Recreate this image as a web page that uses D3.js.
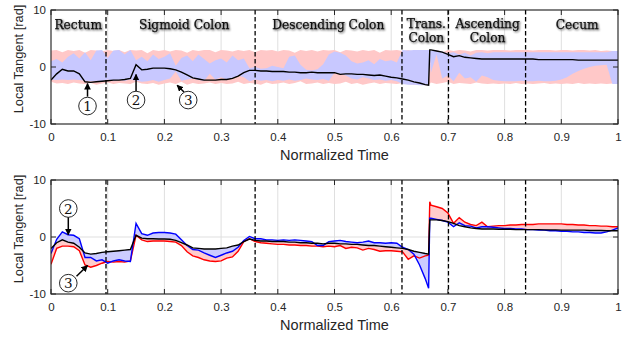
<!DOCTYPE html>
<html>
<head>
<meta charset="utf-8">
<script src="https://cdn.jsdelivr.net/npm/d3@7"></script>
<style>
  body { margin: 0; background: #fff; }
  svg { display: block; }
</style>
</head>
<body>
<div id="chart"></div>
<script>
// Sample times (normalized), with two extra samples around the jump at ~0.667
const time = [
  0.00, 0.01, 0.02, 0.03, 0.04, 0.05, 0.06, 0.07, 0.08, 0.09,
  0.10, 0.11, 0.12, 0.13, 0.14, 0.15, 0.16, 0.17, 0.18, 0.19,
  0.20, 0.21, 0.22, 0.23, 0.24, 0.25, 0.26, 0.27, 0.28, 0.29,
  0.30, 0.31, 0.32, 0.33, 0.34, 0.35, 0.36, 0.37, 0.38, 0.39,
  0.40, 0.41, 0.42, 0.43, 0.44, 0.45, 0.46, 0.47, 0.48, 0.49,
  0.50, 0.51, 0.52, 0.53, 0.54, 0.55, 0.56, 0.57, 0.58, 0.59,
  0.60, 0.61, 0.62, 0.63, 0.64, 0.65, 0.66, 0.666, 0.668, 0.67, 0.68, 0.69,
  0.70, 0.71, 0.72, 0.73, 0.74, 0.75, 0.76, 0.77, 0.78, 0.79,
  0.80, 0.81, 0.82, 0.83, 0.84, 0.85, 0.86, 0.87, 0.88, 0.89,
  0.90, 0.91, 0.92, 0.93, 0.94, 0.95, 0.96, 0.97, 0.98, 0.99,
  1.00
];

// ---- top panel ----
const topMean = [
  -2.3, -1.2, -0.4, -0.7, -0.7, -1.2, -2.6, -2.7, -2.6, -2.5,
  -2.4, -2.3, -2.3, -2.2, -2.0, 0.4, -0.5, -0.4, -0.2, -0.2,
  -0.2, -0.3, -0.5, -0.9, -1.4, -1.9, -2.1, -2.3, -2.3, -2.3,
  -2.2, -2.2, -2.0, -1.6, -1.0, -0.6, -0.6, -0.7, -0.7, -0.8,
  -0.8, -0.8, -0.9, -0.9, -1.0, -1.0, -0.9, -1.0, -1.0, -1.0,
  -1.0, -1.3, -1.2, -1.2, -1.3, -1.3, -1.4, -1.5, -1.4, -1.6,
  -1.8, -1.9, -2.1, -2.3, -2.6, -2.8, -3.1, -3.2, 3.0, 3.0, 2.8, 2.6,
  2.2, 1.8, 2.0, 1.7, 1.6, 1.5, 1.4, 1.4, 1.4, 1.4,
  1.4, 1.4, 1.4, 1.4, 1.4, 1.4, 1.3, 1.3, 1.3, 1.3,
  1.3, 1.3, 1.3, 1.2, 1.2, 1.2, 1.2, 1.2, 1.2, 1.2,
  1.2
];
const pinkHi = [
  2.9, 3.0, 2.6, 3.0, 2.8, 3.0, 2.5, 3.0, 2.9, 2.7,
  3.0, 2.8, 3.0, 2.6, 3.0, 2.9, 3.0, 2.4, 3.0, 2.8,
  3.0, 2.7, 3.0, 2.9, 2.5, 3.0, 2.8, 3.0, 3.0, 2.6,
  3.0, 2.9, 2.7, 3.0, 2.8, 3.0, 2.6, 3.0, 2.9, 3.0,
  2.7, 3.0, 2.9, 2.5, 3.0, 2.8, 3.0, 2.7, 3.0, 2.9,
  3.0, 2.6, 3.0, 2.9, 2.7, 3.0, 2.8, 3.0, 2.5, 3.0,
  2.9, 3.0, 2.8, 3.0, 2.7, 3.0, 2.9, 3.0, 3.0, 2.7, 3.0, 2.6,
  3.0, 2.8, 3.0, 2.9, 2.7, 3.0, 3.0, 2.9, 3.0, 3.0,
  3.0, 2.9, 3.0, 3.0, 3.0, 2.9, 3.0, 3.0, 3.0, 2.9,
  3.0, 3.0, 2.9, 3.0, 3.0, 2.9, 3.0, 2.8, 2.9, 2.8,
  2.8
];
const pinkLo = [
  -2.6, -2.9, -2.8, -3.0, -2.7, -2.9, -3.0, -2.8, -3.1, -2.9,
  -2.7, -3.0, -2.8, -2.9, -3.0, -2.6, -2.9, -3.0, -2.8, -3.1,
  -2.9, -2.7, -3.0, -2.6, -3.1, -2.8, -3.0, -2.9, -2.7, -3.0,
  -2.8, -3.0, -2.9, -2.6, -3.0, -2.8, -2.9, -3.1, -2.7, -3.0,
  -2.9, -2.7, -3.0, -2.8, -2.5, -3.0, -2.9, -2.7, -3.0, -2.8,
  -3.0, -2.9, -2.6, -3.0, -2.8, -3.1, -2.9, -2.7, -3.0, -2.8,
  -2.9, -3.0, -2.8, -3.0, -3.1, -3.0, -3.2, -3.2, -3.0, -2.7, -3.0, -2.8,
  -2.6, -3.0, -2.8, -2.9, -3.0, -2.7, -2.9, -3.0, -2.9, -3.0,
  -2.9, -3.0, -2.8, -3.0, -2.9, -3.0, -2.9, -2.8, -3.0, -2.9,
  -3.0, -2.9, -3.0, -2.8, -3.0, -2.9, -3.0, -2.9, -3.0, -2.9,
  -2.9
];
const blueHi = [
  1.0, 1.4, 0.8, 1.8, 2.4, 1.5, 2.6, 1.2, 2.9, 3.0,
  1.6, 2.9, 3.0, 2.2, 3.0, 1.2, 1.8, 1.0, 2.2, 1.4,
  1.8, 2.4, 0.2, 1.6, 2.0, 1.0, 2.2, 1.4, 0.6, 1.2,
  1.5, 0.8, 2.0, 1.2, 1.5, -0.2, 0.0, -0.3, -0.2, 0.2,
  0.0, -0.2, 1.8, 2.0, 0.4, -0.5, -0.6, -0.4, 0.5, 2.2,
  2.7, 2.5, 2.0, 1.0, 0.6, 0.8, 1.2, 0.5, 1.4, 1.0,
  1.2, 0.8, 3.0, 2.9, 3.0, 3.0, 3.0, 3.0, 3.0, 2.8, 2.9, 2.7,
  2.4, 2.6, 2.2, 2.5, 2.0, 2.5, 2.6, 2.4, 2.6, 2.6,
  2.6, 2.6, 2.6, 2.6, 2.6, 2.6, 2.6, 2.6, 2.6, 2.6,
  2.6, 2.6, 2.6, 2.6, 2.6, 2.6, 2.6, 2.6, 2.6, 2.8,
  2.8
];
const blueLo = [
  -2.2, -2.3, -2.2, -2.3, -2.2, -2.3, -2.4, -2.5, -2.4, -2.5,
  -2.2, -2.5, -2.3, -2.4, -2.2, -2.4, -2.6, -2.5, -2.3, -2.6,
  -2.3, -2.0, -0.8, -2.4, -2.2, -2.0, -2.3, -2.4, -1.2, -2.2,
  -1.8, -2.2, -2.0, -1.5, -1.8, -2.5, -2.2, -2.4, -2.3, -2.5,
  -2.3, -2.4, -2.2, -2.4, -2.3, -2.0, -2.2, -2.3, -2.1, -2.4,
  -1.0, -1.2, -1.5, -2.0, -2.2, -1.8, -2.0, -2.3, -2.2, -2.4,
  -2.3, -2.5, -3.0, -3.1, -3.1, -3.2, -3.2, -3.2, 2.6, -1.0, 2.2, -2.0,
  -1.5, -2.5, -1.0, -2.0, -1.8, -2.6, -1.5, -1.8, -2.3, -2.4,
  -2.5, -2.5, -2.5, -2.4, -2.5, -2.5, -2.4, -2.5, -2.5, -2.4,
  -2.2, -1.8, -1.2, -0.7, -0.3, 0.0, 0.2, 0.3, 0.4, -3.0,
  -3.0
];

// ---- bottom panel ----
const botMean = [
  -2.0, -1.0, -0.5, -0.9, -1.1, -1.8, -2.8, -3.0, -2.9, -2.7,
  -2.6, -2.5, -2.4, -2.3, -2.2, 0.3, -0.2, -0.3, -0.3, -0.35,
  -0.35, -0.4, -0.6, -1.0, -1.4, -1.9, -2.0, -2.1, -2.1, -2.1,
  -2.0, -1.9, -1.6, -1.4, -0.8, -0.35, -0.6, -0.7, -0.7, -0.8,
  -0.8, -0.8, -0.9, -0.9, -1.0, -1.0, -1.1, -1.1, -1.2, -1.1,
  -1.1, -1.2, -1.2, -1.3, -1.3, -1.4, -1.5, -1.5, -1.6, -1.7,
  -1.8, -1.9, -2.0, -2.2, -2.5, -2.7, -2.9, -3.0, 3.0, 3.0, 3.0, 2.9,
  2.7, 2.4, 2.0, 1.8, 1.6, 1.5, 1.4, 1.4, 1.4, 1.35,
  1.35, 1.35, 1.3, 1.3, 1.3, 1.3, 1.3, 1.25, 1.25, 1.25,
  1.2, 1.2, 1.2, 1.2, 1.2, 1.15, 1.15, 1.15, 1.1, 1.1,
  1.1
];
const botRed = [
  -4.8, -2.0, -1.6, -1.6, -1.7, -2.4, -4.9, -5.3, -5.0, -4.6,
  -4.3, -4.4, -4.3, -4.4, -4.2, 0.3, -0.5, -0.8, -0.7, -0.7,
  -0.7, -0.8, -0.9, -1.5, -2.6, -3.3, -3.6, -4.0, -4.2, -4.3,
  -4.2, -3.7, -3.5, -2.5, -0.8, -0.3, -0.8, -1.0, -1.1, -1.2,
  -1.3, -1.3, -1.4, -1.4, -1.5, -1.5, -1.6, -1.6, -1.7, -1.6,
  -1.7, -1.5, -2.0, -1.8, -1.9, -2.3, -2.0, -2.2, -2.5, -2.4,
  -2.4, -2.5, -2.6, -3.9, -3.3, -3.7, -3.3, -3.2, 6.2, 5.6, 5.3, 5.0,
  4.2, 2.4, 3.4, 2.6, 2.2, 2.0, 2.6, 1.8, 1.9, 2.0,
  2.0, 2.1, 2.1, 2.2, 2.2, 2.2, 2.3, 2.3, 2.3, 2.3,
  2.3, 2.2, 2.2, 2.1, 2.1, 2.0, 2.0, 1.9, 1.9, 1.8,
  1.8
];
const botBlue = [
  -2.9, -0.4, 0.9, 0.4, 0.3, -0.3, -3.6, -3.6, -4.2, -4.0,
  -4.6, -4.2, -4.0, -4.2, -4.3, 2.4, 0.6, 0.3, 0.7, 0.8,
  0.8, 0.7, 0.5, -0.5, -1.5, -2.2, -2.3, -2.8, -3.2, -3.6,
  -3.2, -2.8, -2.5, -1.8, -0.6, 0.1, -0.3, -0.3, -0.5, -0.5,
  -0.6, -0.5, -0.6, -0.5, -0.6, -0.7, -0.8, -1.5, -1.5, -0.8,
  -0.7, -0.6, -0.8, -0.9, -1.0, -0.9, -0.7, -1.0, -1.0, -1.1,
  -1.0, -1.1, -1.8, -2.2, -3.0, -4.9, -7.3, -9.0, 3.3, 3.3, 3.1, 2.9,
  2.6, 1.8, 2.5, 2.0, 1.9, 1.6, 1.8, 1.8, 1.7, 1.6,
  1.5, 1.5, 1.4, 1.4, 1.3, 1.3, 1.2, 1.2, 1.1, 1.1,
  1.0, 1.0, 0.9, 0.9, 0.8, 0.8, 0.7, 0.7, 0.9, 1.2,
  1.6
];

// segment boundaries and labels
const boundaries = [0.097, 0.36, 0.619, 0.701, 0.837];
const sections = [
  { lines: ["Rectum"], t: 0.048 },
  { lines: ["Sigmoid Colon"], t: 0.235 },
  { lines: ["Descending Colon"], t: 0.489 },
  { lines: ["Trans.", "Colon"], t: 0.662 },
  { lines: ["Ascending", "Colon"], t: 0.770 },
  { lines: ["Cecum"], t: 0.928 }
];
const xTicks = [0, 0.1, 0.2, 0.3, 0.4, 0.5, 0.6, 0.7, 0.8, 0.9, 1];
const yTicks = [-10, 0, 10];

// annotations in data units: circle centre, arrow tail -> tip
const topNotes = [
  { label: "1", c: [0.0644, -6.85], from: [0.0644, -5.2], to: [0.0644, -2.9] },
  { label: "2", c: [0.150, -5.8], from: [0.150, -4.2], to: [0.150, -1.3] },
  { label: "3", c: [0.242, -5.8], from: [0.2345, -4.4], to: [0.2225, -3.2] }
];
const botNotes = [
  { label: "2", c: [0.0305, 5.0], from: [0.0305, 3.5], to: [0.0305, 0.4] },
  { label: "3", c: [0.0305, -8.1], from: [0.045, -6.9], to: [0.0645, -5.0] }
];

const W = 626, H = 337;
const svg = d3.select("#chart").append("svg").attr("width", W).attr("height", H);

const defs = svg.append("defs");
const f = defs.append("filter").attr("id", "shadow")
  .attr("x", "-20%").attr("y", "-40%").attr("width", "140%").attr("height", "180%");
f.append("feGaussianBlur").attr("in", "SourceAlpha").attr("stdDeviation", 1.0).attr("result", "b");
f.append("feOffset").attr("in", "b").attr("dx", 1.3).attr("dy", 1.3).attr("result", "o");
f.append("feComponentTransfer").attr("in", "o").attr("result", "s")
  .append("feFuncA").attr("type", "linear").attr("slope", 0.7);
const fm = f.append("feMerge");
fm.append("feMergeNode").attr("in", "s");
fm.append("feMergeNode").attr("in", "SourceGraphic");

defs.append("marker").attr("id", "arrow")
  .attr("viewBox", "0 0 10 10").attr("refX", 9).attr("refY", 5)
  .attr("markerWidth", 4.5).attr("markerHeight", 4.5).attr("orient", "auto")
  .append("path").attr("d", "M0,0 L10,5 L0,10 z").attr("fill", "#000");

const sans = "'Liberation Sans', Arial, sans-serif";
const serif = "'DejaVu Serif', serif";

const x = d3.scaleLinear().domain([0, 1]).range([51, 618]);

function panel(top, bottom, id) {
  const y = d3.scaleLinear().domain([-10, 10]).range([bottom, top]);
  const g = svg.append("g");
  defs.append("clipPath").attr("id", "clip" + id)
    .append("rect").attr("x", x(0)).attr("y", top).attr("width", x(1) - x(0)).attr("height", bottom - top);

  // grid
  g.append("g").selectAll("line").data(xTicks).join("line")
    .attr("x1", d => x(d)).attr("x2", d => x(d)).attr("y1", top).attr("y2", bottom)
    .attr("stroke", "#dfdfdf").attr("stroke-width", 1);
  g.append("g").selectAll("line").data(yTicks).join("line")
    .attr("x1", x(0)).attr("x2", x(1)).attr("y1", d => y(d)).attr("y2", d => y(d))
    .attr("stroke", "#dfdfdf").attr("stroke-width", 1);

  const data = g.append("g").attr("clip-path", `url(#clip${id})`);
  return { y, g, data, top, bottom };
}

function frame(p) {
  const { y, g, top, bottom } = p;
  // dashed segment boundaries
  g.append("g").selectAll("line").data(boundaries).join("line")
    .attr("x1", d => x(d)).attr("x2", d => x(d)).attr("y1", top).attr("y2", bottom)
    .attr("stroke", "#000").attr("stroke-width", 1.3).attr("stroke-dasharray", "4.5,2.5");

  // axes
  const xa = g.append("g").attr("transform", `translate(0,${bottom})`)
    .call(d3.axisBottom(x).tickValues(xTicks).tickSize(0).tickPadding(9)
      .tickFormat(d => String(+d.toFixed(1))));
  const ya = g.append("g").attr("transform", `translate(${x(0)},0)`)
    .call(d3.axisLeft(y).tickValues(yTicks).tickSize(0).tickPadding(5)
      .tickFormat(d => String(d)));
  [xa, ya].forEach(a => {
    a.select(".domain").remove();
    a.selectAll("text").attr("font-family", sans).attr("font-size", 11.5).attr("fill", "#262626");
  });

  // inner tick marks on all four sides
  const tk = 5;
  const tg = g.append("g").attr("stroke", "#262626").attr("stroke-width", 1);
  xTicks.forEach(d => {
    tg.append("line").attr("x1", x(d)).attr("x2", x(d)).attr("y1", bottom).attr("y2", bottom - tk);
    tg.append("line").attr("x1", x(d)).attr("x2", x(d)).attr("y1", top).attr("y2", top + tk);
  });
  yTicks.forEach(d => {
    tg.append("line").attr("x1", x(0)).attr("x2", x(0) + tk).attr("y1", y(d)).attr("y2", y(d));
    tg.append("line").attr("x1", x(1)).attr("x2", x(1) - tk).attr("y1", y(d)).attr("y2", y(d));
  });

  g.append("rect").attr("x", x(0)).attr("y", top).attr("width", x(1) - x(0)).attr("height", bottom - top)
    .attr("fill", "none").attr("stroke", "#262626").attr("stroke-width", 1.1);

  // labels
  g.append("text").attr("x", (x(0) + x(1)) / 2).attr("y", bottom + 36)
    .attr("text-anchor", "middle").attr("font-family", sans).attr("font-size", 14.5)
    .attr("fill", "#262626").text("Normalized Time");
  g.append("text").attr("transform", `translate(23,${(top + bottom) / 2 - 8}) rotate(-90)`)
    .attr("text-anchor", "middle").attr("font-family", sans).attr("font-size", 12.8)
    .attr("fill", "#262626").text("Local Tangent [rad]");
}

function notes(p, list) {
  const { y, g } = p;
  const ng = g.append("g");
  list.forEach(n => {
    ng.append("line")
      .attr("x1", x(n.from[0])).attr("y1", y(n.from[1]))
      .attr("x2", x(n.to[0])).attr("y2", y(n.to[1]))
      .attr("stroke", "#000").attr("stroke-width", 1.5).attr("marker-end", "url(#arrow)");
    ng.append("circle").attr("cx", x(n.c[0])).attr("cy", y(n.c[1])).attr("r", 8.8)
      .attr("fill", "#fff").attr("stroke", "#111").attr("stroke-width", 0.9);
    ng.append("text").attr("x", x(n.c[0])).attr("y", y(n.c[1]) + 5)
      .attr("text-anchor", "middle").attr("font-family", serif).attr("font-size", 13.5)
      .attr("fill", "#111").text(n.label);
  });
}

const rows = time.map((t, i) => ({
  t,
  m1: topMean[i], ph: pinkHi[i], pl: pinkLo[i], bh: blueHi[i], bl: blueLo[i],
  m2: botMean[i], r: botRed[i], b: botBlue[i]
}));

// ---------- top ----------
const P1 = panel(10, 124, 1);
P1.data.append("path").datum(rows)
  .attr("d", d3.area().x(d => x(d.t)).y0(d => P1.y(d.pl)).y1(d => P1.y(d.ph)))
  .attr("fill", "#ffc8c8");
P1.data.append("path").datum(rows)
  .attr("d", d3.area().x(d => x(d.t)).y0(d => P1.y(d.bl)).y1(d => P1.y(d.bh)))
  .attr("fill", "#c8c8ff");
P1.data.append("path").datum(rows)
  .attr("d", d3.line().x(d => x(d.t)).y(d => P1.y(d.m1)))
  .attr("fill", "none").attr("stroke", "#000").attr("stroke-width", 1.4);
frame(P1);

// section labels
const sg = P1.g.append("g").attr("filter", "url(#shadow)");
sections.forEach(s => {
  s.lines.forEach((ln, k) => {
    sg.append("text").attr("x", x(s.t)).attr("y", (s.lines.length > 1 ? 28.3 : 29) + k * 13.9)
      .attr("text-anchor", "middle").attr("font-family", serif).attr("font-size", 12.2)
      .attr("fill", "#111").attr("stroke", "#111").attr("stroke-width", 0.25)
      .text(ln);
  });
});
notes(P1, topNotes);

// ---------- bottom ----------
const P2 = panel(180, 294, 2);
P2.data.append("path").datum(rows)
  .attr("d", d3.area().x(d => x(d.t)).y0(d => P2.y(d.m2)).y1(d => P2.y(d.r)))
  .attr("fill", "#ffcccc");
P2.data.append("path").datum(rows)
  .attr("d", d3.area().x(d => x(d.t)).y0(d => P2.y(d.m2)).y1(d => P2.y(d.b)))
  .attr("fill", "#ccccff");
P2.data.append("path").datum(rows)
  .attr("d", d3.line().x(d => x(d.t)).y(d => P2.y(d.r)))
  .attr("fill", "none").attr("stroke", "#ff0000").attr("stroke-width", 1.4);
P2.data.append("path").datum(rows)
  .attr("d", d3.line().x(d => x(d.t)).y(d => P2.y(d.b)))
  .attr("fill", "none").attr("stroke", "#0000ff").attr("stroke-width", 1.4);
P2.data.append("path").datum(rows)
  .attr("d", d3.line().x(d => x(d.t)).y(d => P2.y(d.m2)))
  .attr("fill", "none").attr("stroke", "#000").attr("stroke-width", 1.4);
frame(P2);
notes(P2, botNotes);
</script>
</body>
</html>
